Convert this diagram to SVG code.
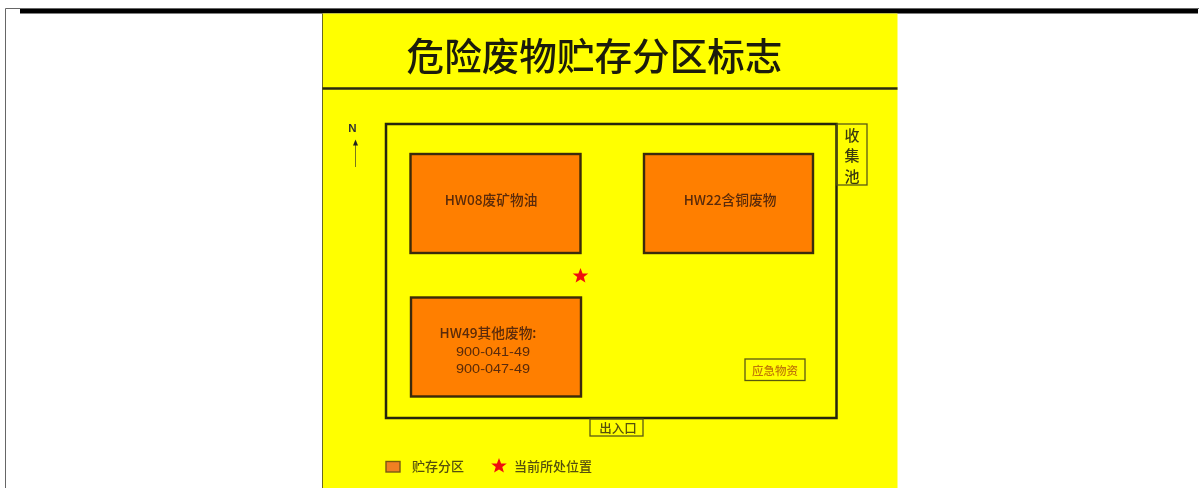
<svg xmlns="http://www.w3.org/2000/svg" width="1201" height="488" viewBox="0 0 1201 488">
<defs>
<filter id="soft" x="-2%" y="-2%" width="104%" height="104%"><feGaussianBlur stdDeviation="0.5"/></filter>
<path id="star" d="M0,-8 L2.1,-2.6 L7.8,-2.5 L3.3,1 L4.9,6.6 L0,3.4 L-4.9,6.6 L-3.3,1 L-7.8,-2.5 L-2.1,-2.6 Z" fill="#f01010"/>
</defs>
<style>
text{font-family:"Noto Sans CJK SC","Liberation Sans",sans-serif}
.zone{fill:#ff7f00;stroke:#3a2a08;stroke-width:2.4}
.lbl{font-size:13.7px;font-weight:500;fill:#5a2a08;text-anchor:middle}
.num{font-family:"Liberation Sans",sans-serif;font-size:13.5px;font-weight:400;fill:#5a2a08;text-anchor:middle}
.small{fill:none;stroke:#5a5a10;stroke-width:1.3}
.dark{font-size:13px;font-weight:500;fill:#55500c}
.pool{font-size:15px;font-weight:500;fill:#3a3a10;text-anchor:middle}
</style>
<rect width="1201" height="488" fill="#fff"/>
<g id="page-frame">
<path d="M5.500,488 V8.500 H1199" fill="none" stroke="#666" stroke-width="1"/>
<rect x="20" y="9" width="1178" height="4.500" fill="#000"/>
</g>
<g id="sign" filter="url(#soft)">
<rect x="322.500" y="13.500" width="575" height="475" fill="#ffff00"/>
<path d="M322.500,13.500 V488" stroke="#6a6a20" stroke-width="1" fill="none"/>
<path d="M322.500,88.500 H897.500" stroke="#2a2a10" stroke-width="2.400"/>
<text id="title" x="594.500" y="69.500" font-size="37.600" font-weight="500" fill="#1c1c08" text-anchor="middle">危险废物贮存分区标志</text>
<g id="north">
<text x="352.500" y="132" font-size="11.500" font-weight="700" fill="#333" text-anchor="middle" style="font-family:'Liberation Sans',sans-serif">N</text>
<path d="M355.500,145 V167" stroke="#77771a" stroke-width="1"/>
<path d="M355.500,139.500 L358,145.500 H353 Z" fill="#222"/>
</g>
<rect id="site" x="386" y="124" width="450.500" height="294" fill="none" stroke="#25250c" stroke-width="2.500"/>
<g id="collection-pool">
<rect class="small" x="837" y="124" width="30" height="61"/>
<text class="pool" x="852" y="141">收</text>
<text class="pool" x="852" y="161">集</text>
<text class="pool" x="852" y="182">池</text>
</g>
<g id="zone-hw08">
<rect class="zone" x="410.500" y="154" width="170" height="99"/>
<text class="lbl" x="491" y="204.500">HW08废矿物油</text>
</g>
<g id="zone-hw22">
<rect class="zone" x="644" y="154" width="169" height="99"/>
<text class="lbl" x="730" y="204.500">HW22含铜废物</text>
</g>
<g id="zone-hw49">
<rect class="zone" x="411" y="297.500" width="170" height="99"/>
<text class="lbl" x="488" y="338">HW49其他废物:</text>
<text class="num" x="493" y="356" textLength="74" lengthAdjust="spacingAndGlyphs">900-041-49</text>
<text class="num" x="493" y="373" textLength="74" lengthAdjust="spacingAndGlyphs">900-047-49</text>
</g>
<use id="current-position" href="#star" x="580.500" y="276"/>
<g id="emergency-supplies">
<rect class="small" x="745" y="359" width="60" height="21.500"/>
<text x="775" y="374.500" font-size="11.500" font-weight="500" fill="#c07808" text-anchor="middle">应急物资</text>
</g>
<g id="entrance">
<rect class="small" x="590" y="419" width="53" height="17"/>
<text x="618" y="433" font-size="12.500" font-weight="500" fill="#55500c" text-anchor="middle">出入口</text>
</g>
<g id="legend">
<rect x="386" y="461.500" width="14" height="10.500" fill="#f08020" stroke="#7a5a10" stroke-width="1.400"/>
<text class="dark" x="412" y="471">贮存分区</text>
<use href="#star" x="499" y="466"/>
<text class="dark" x="514" y="470.500">当前所处位置</text>
</g>
</g>
</svg>
